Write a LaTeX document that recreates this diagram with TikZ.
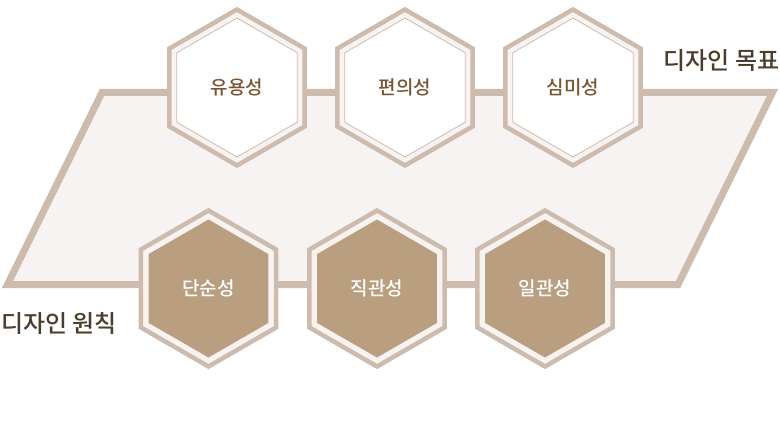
\documentclass[tikz,border=0pt]{standalone}
\usepackage{fontspec}
\newfontfamily\kr{Noto Sans CJK KR}[UprightFont={* Medium}]
\usetikzlibrary{shapes.geometric}
\definecolor{tanline}{HTML}{CDBCAE}
\definecolor{panel}{HTML}{F7F3F2}
\definecolor{band}{HTML}{F8F3F1}
\definecolor{darkfill}{HTML}{B99E80}
\definecolor{toptext}{HTML}{7B5431}
\definecolor{titletext}{HTML}{4B3C2C}
\tikzset{
  hexbase/.style={regular polygon, regular polygon sides=6, shape border rotate=30, inner sep=0pt, outer sep=0pt},
  outerhex/.style={hexbase, minimum size=156pt, draw=tanline, line width=4.5pt, fill=band},
  innerlight/.style={hexbase, minimum size=139pt, draw=tanline, line width=0.8pt, fill=white, text=toptext, font=\kr\fontsize{19}{19}\selectfont},
  innerdark/.style={hexbase, minimum size=138pt, fill=darkfill, text=white, font=\kr\fontsize{19}{19}\selectfont},
  title/.style={text=titletext, font=\kr\fontsize{24}{24}\selectfont, inner sep=0pt}
}
\begin{document}
\begin{tikzpicture}[x=1pt,y=-1pt]
\useasboundingbox[fill=white] (0,0) rectangle (780,428);
\coordinate (pTL) at (102,92.5);
\coordinate (pTR) at (772.5,92.5);
\coordinate (pBR) at (678,284.5);
\coordinate (pBL) at (7.5,284.5);
\draw[draw=tanline, fill=panel, line width=7pt] (pTL) -- (pTR) -- (pBR) -- (pBL) -- cycle;
% top hexagons
\foreach \n/\x in {a/237,b/405,c/573}{
  \node[outerhex] (o\n) at (\x,87.5) {};
}
\node[innerlight] (ha) at (237,87.5) {유용성};
\node[innerlight] (hb) at (405,87.5) {편의성};
\node[innerlight] (hc) at (573,87.5) {심미성};
% bottom hexagons
\foreach \n/\x in {d/208.5,e/377,f/545}{
  \node[outerhex] (o\n) at (\x,288.5) {};
}
\node[innerdark] (hd) at (208.5,288.5) {단순성};
\node[innerdark] (he) at (377,288.5) {직관성};
\node[innerdark] (hf) at (545,288.5) {일관성};
% titles
\node[title] (goal) at (721.5,60.5) {디자인 목표};
\node[title] (princ) at (59,323) {디자인 원칙};
\end{tikzpicture}
\end{document}
